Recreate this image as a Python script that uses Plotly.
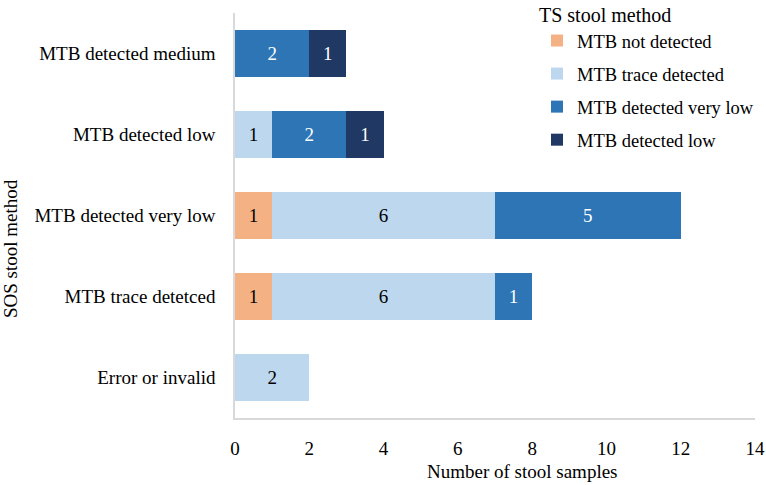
import plotly.graph_objects as go

categories = ["Error or invalid", "MTB trace detetced", "MTB detected very low",
              "MTB detected low", "MTB detected medium"]
series_names = ["MTB not detected", "MTB trace detected", "MTB detected very low", "MTB detected low"]
not_detected = [0, 1, 1, 0, 0]
trace_detected = [2, 6, 6, 1, 0]
very_low = [0, 1, 5, 2, 2]
low = [0, 0, 0, 1, 1]
x_ticks = [0, 2, 4, 6, 8, 10, 12, 14]

colors = ["#F4B183", "#BDD7EE", "#2E75B6", "#1F3864"]
label_colors = ["#000000", "#000000", "#FFFFFF", "#FFFFFF"]
FONT = "Liberation Serif, Times New Roman, serif"

W, H = 766, 485
L, R, T, B = 235, 11, 13, 67
PW, PH = W - L - R, H - T - B

fig = go.Figure()
for i, (name, vals) in enumerate(zip(series_names, [not_detected, trace_detected, very_low, low])):
    fig.add_trace(go.Bar(
        y=categories, x=vals, name=name, orientation="h",
        marker=dict(color=colors[i], line=dict(width=0)),
        text=[str(v) if v else "" for v in vals],
        textposition="inside", insidetextanchor="middle", textangle=0,
        textfont=dict(family=FONT, size=19, color=label_colors[i]),
        legendgroup=f"g{i}",
        hoverinfo="x+y+name",
    ))

fig.update_layout(
    barmode="stack",
    bargap=0.42,
    width=W, height=H,
    margin=dict(l=L, r=R, t=T, b=B, autoexpand=False),
    paper_bgcolor="white", plot_bgcolor="white",
    font=dict(family=FONT, size=19, color="#000000"),
    showlegend=True,
    legend=dict(
        x=(537 - L) / PW, y=1 + (T + 4) / PH, xanchor="left", yanchor="top",
        title=dict(text="TS stool method", font=dict(size=20)),
        font=dict(size=18.5), tracegroupgap=6, traceorder="grouped",
        bgcolor="rgba(0,0,0,0)",
    ),
    xaxis=dict(
        range=[0, 14], tickvals=x_ticks, showgrid=False, zeroline=False,
        showline=True, linecolor="#D9D9D9", linewidth=1.5, ticks="",
        ticklabelstandoff=12, tickfont=dict(size=19),
    ),
    yaxis=dict(
        categoryorder="array", categoryarray=categories,
        range=[-0.5, 4.5], showgrid=False, zeroline=False,
        showline=True, linecolor="#D9D9D9", linewidth=1.5, ticks="",
        ticklabelstandoff=14, tickfont=dict(size=19),
    ),
    annotations=[
        dict(text="Number of stool samples", xref="paper", yref="paper",
             x=(522 - L) / PW, y=-(H - 1 - (T + PH)) / PH, xanchor="center", yanchor="bottom",
             showarrow=False, font=dict(size=19)),
        dict(text="SOS stool method", xref="paper", yref="paper",
             x=-(L - 10) / PW, y=(T + PH - 249) / PH, xanchor="center", yanchor="middle",
             textangle=-90, showarrow=False, font=dict(size=19)),
    ],
)

fig.write_html("out.html", config={"displayModeBar": False})

# remove the browser's default 8px body margin so the figure fills the window exactly
with open("out.html", "r", encoding="utf-8") as f:
    html = f.read()
html = html.replace("<head>", "<head><style>html,body{margin:0;padding:0;overflow:hidden;}</style>", 1)
with open("out.html", "w", encoding="utf-8") as f:
    f.write(html)
